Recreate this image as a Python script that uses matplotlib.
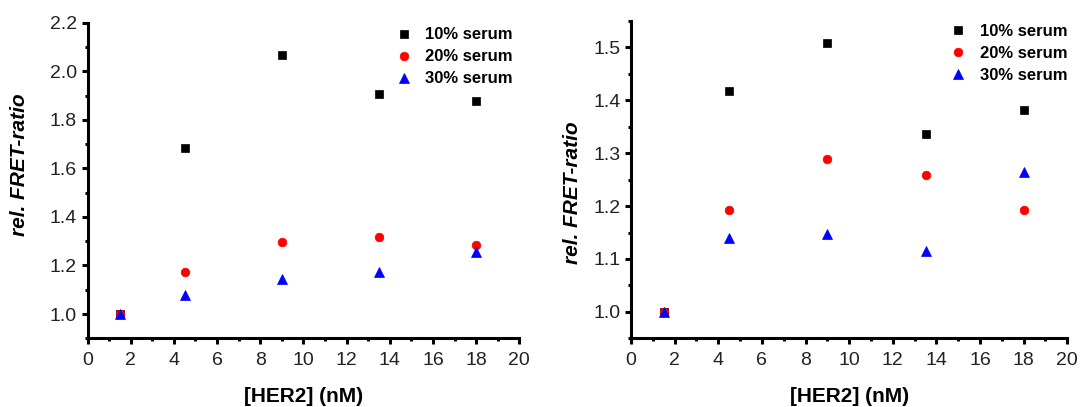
import matplotlib
matplotlib.use("Agg")
import matplotlib.pyplot as plt
from matplotlib.ticker import MultipleLocator, FormatStrFormatter

plt.rcParams['font.family'] = ['Liberation Sans', 'DejaVu Sans']

# HER2 concentrations (nM)
her2 = [1.5, 4.5, 9, 13.5, 18]
series_labels = ['10% serum', '20% serum', '30% serum']

# Panel A: relative FRET ratio
panel_a_10 = [1.0, 1.685, 2.067, 1.906, 1.877]
panel_a_20 = [1.0, 1.172, 1.298, 1.316, 1.286]
panel_a_30 = [1.0, 1.079, 1.145, 1.172, 1.255]

# Panel B: relative FRET ratio
panel_b_10 = [1.0, 1.418, 1.509, 1.337, 1.381]
panel_b_20 = [1.0, 1.192, 1.289, 1.259, 1.193]
panel_b_30 = [1.0, 1.139, 1.147, 1.115, 1.264]

styles = [dict(marker='s', color='black', ms=6.0),
          dict(marker='o', color='#ff0000', ms=6.2),
          dict(marker='^', color='#0000ff', ms=6.8)]

W, H = 1080, 407
fig = plt.figure(figsize=(W / 100, H / 100), dpi=100)

tick_color = '#222222'


def px_axes(x0, x1, ytop, ybot):
    return fig.add_axes([x0 / W, 1 - ybot / H, (x1 - x0) / W, (ybot - ytop) / H])


def style_axes(ax, ylim, ymajor, yminor, yfmt):
    ax.set_xlim(0, 20)
    ax.set_ylim(*ylim)
    ax.xaxis.set_major_locator(MultipleLocator(2))
    ax.xaxis.set_minor_locator(MultipleLocator(1))
    ax.yaxis.set_major_locator(MultipleLocator(ymajor))
    ax.yaxis.set_minor_locator(MultipleLocator(yminor))
    ax.yaxis.set_major_formatter(FormatStrFormatter(yfmt))
    for side in ('top', 'right'):
        ax.spines[side].set_visible(False)
    for side in ('left', 'bottom'):
        ax.spines[side].set_linewidth(2.2)
    ax.tick_params(which='major', direction='out', length=4.5, width=2.2,
                   labelsize=14, labelcolor=tick_color, pad=3)
    ax.tick_params(axis='x', which='major', pad=5.5)
    ax.tick_params(which='minor', direction='out', length=2.5, width=2.2)


def draw_panel(ax, ys):
    for y, lab, st in zip(ys, series_labels, styles):
        ax.plot(her2, y, linestyle='none', marker=st['marker'], ms=st['ms'],
                color=st['color'], mec=st['color'], mew=0.5, label=lab,
                clip_on=False)


def add_legend(ax, anchor):
    ax.legend(loc='upper right', bbox_to_anchor=anchor, frameon=False,
              prop={'weight': 'bold', 'size': 12}, handlelength=1.0,
              handletextpad=0.8, labelspacing=0.42, borderpad=0,
              borderaxespad=0)


ax1 = px_axes(87.5, 519.3, 22.7, 338.3)
draw_panel(ax1, [panel_a_10, panel_a_20, panel_a_30])
style_axes(ax1, (0.9, 2.2), 0.2, 0.1, '%.1f')
add_legend(ax1, (0.985, 0.985))

ax2 = px_axes(631, 1067.3, 20.9, 338.3)
draw_panel(ax2, [panel_b_10, panel_b_20, panel_b_30])
style_axes(ax2, (0.95, 1.55), 0.1, 0.05, '%.1f')
add_legend(ax2, (1.0, 0.99))

# axis titles
for xc in (303.4, 849.2):
    fig.text(xc / W, 1 - 397 / H, '[HER2] (nM)', ha='center', va='center',
             fontsize=15, fontweight='bold')
for (xc, yc) in ((20, 165), (572, 193)):
    fig.text(xc / W, 1 - yc / H, 'rel. FRET-ratio', ha='center', va='center',
             rotation=90, fontsize=15, fontweight='bold', fontstyle='italic')

fig.savefig('out.png', dpi=100)
